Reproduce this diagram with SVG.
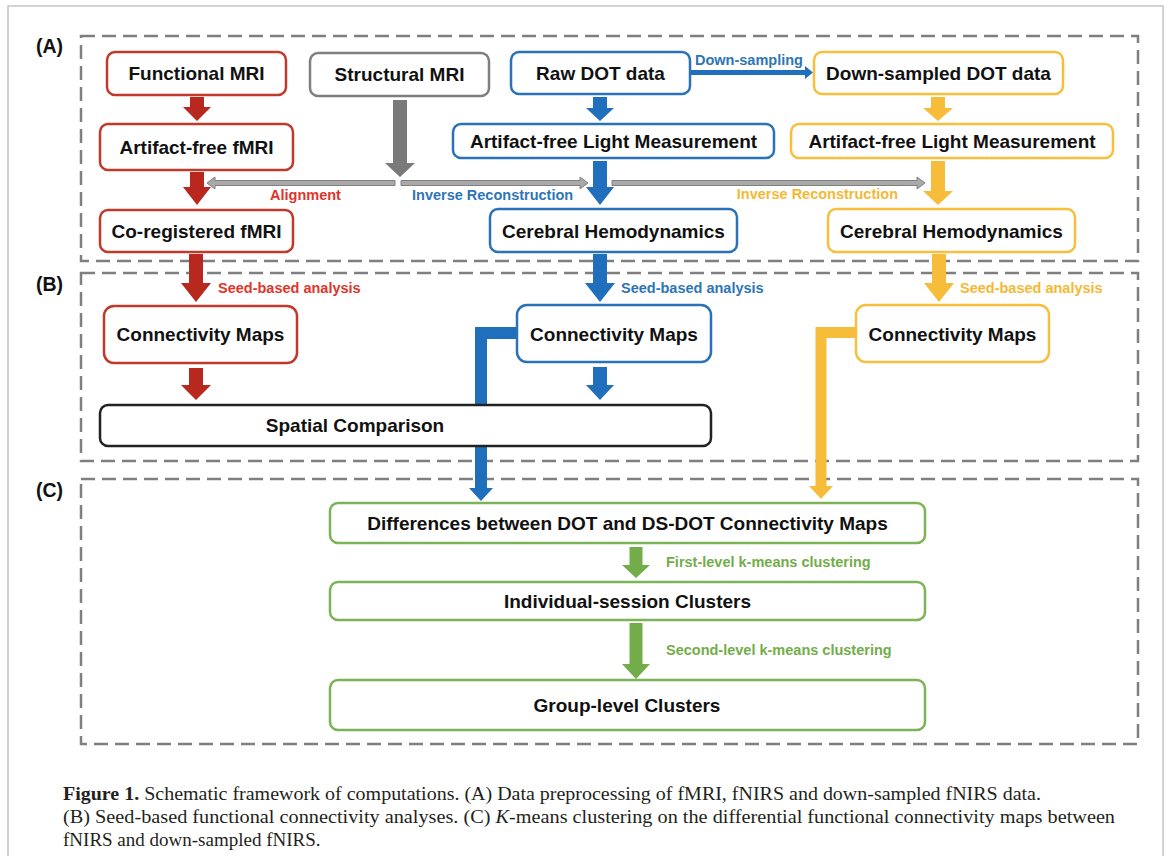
<svg xmlns="http://www.w3.org/2000/svg" width="1168" height="856" viewBox="0 0 1168 856">
<style>
.frame{fill:#fff;stroke:#c4c4c4;stroke-width:1.5}
.dash{fill:none;stroke:#7f7f7f;stroke-width:2.5;stroke-dasharray:14 7}
.box{fill:#fff;stroke-width:2.5}
.red{stroke:#c0392b}
.gray{stroke:#7f7f7f}
.blue{stroke:#2a72b8}
.yel{stroke:#f7bf3e}
.grn{stroke:#7cb356}
.blk{stroke:#222}
.t{font-family:"Liberation Sans",Arial,sans-serif;font-weight:bold;font-size:19px;fill:#111;text-anchor:middle}
.sec{font-family:"Liberation Sans",Arial,sans-serif;font-weight:bold;font-size:19.5px;fill:#111}
.lb{font-family:"Liberation Sans",Arial,sans-serif;font-weight:bold;font-size:14.5px}
.cap{font-family:"Liberation Serif","Times New Roman",serif;font-size:19px;fill:#231f20}
.fr{fill:#b8281e}.fb{fill:#1f6fbd}.fy{fill:#f7bd3a}.fg{fill:#72ad4a}.fk{fill:#7a7a7a}
.thin{fill:#a9a9a9;stroke:#808080;stroke-width:1}
</style>
<rect class="frame" x="8" y="6" width="1155" height="860"/>
<g id="sections">
<rect class="dash" x="81" y="36" width="1057" height="225"/>
<rect class="dash" x="81" y="273" width="1057" height="188"/>
<rect class="dash" x="81" y="479" width="1057" height="265"/>
<text class="sec" x="36" y="53">(A)</text>
<text class="sec" x="36" y="291">(B)</text>
<text class="sec" x="36" y="497">(C)</text>
</g>
<g id="connectors">
<polygon class="thin" points="395,180.5 215,180.5 215,177 207,183 215,189 215,185.5 395,185.5"/>
<polygon class="thin" points="401,180.5 580,180.5 580,177 588,183 580,189 580,185.5 401,185.5"/>
<polygon class="thin" points="612,180.5 917,180.5 917,177 925,183 917,189 917,185.5 612,185.5"/>
<polygon class="fb" points="690,70 805,70 805,66 813,72.5 805,79 805,75 690,75"/>
<polygon class="fk" points="393,100 407,100 407,163 415,163 400,177 385,163 393,163"/>
<polygon class="fr" points="190,97 204,97 204,107 211,107 197,121 183,107 190,107"/>
<polygon class="fr" points="190,172 204,172 204,187 211,187 197,205 183,187 190,187"/>
<polygon class="fr" points="189,254 203,254 203,283 211,283 196,302 181,283 189,283"/>
<polygon class="fr" points="189,368 203,368 203,385 211,385 196,400 181,385 189,385"/>
<polygon class="fb" points="593,97 607,97 607,108 614,108 600,121 586,108 593,108"/>
<polygon class="fb" points="593,161 607,161 607,187 614,187 600,205 586,187 593,187"/>
<polygon class="fb" points="593,254 607,254 607,283 615,283 600,302 585,283 593,283"/>
<polygon class="fb" points="593,367 607,367 607,385 614,385 600,400 586,385 593,385"/>
<polygon class="fy" points="931,97 945,97 945,108 953,108 938,121 923,108 931,108"/>
<polygon class="fy" points="931,161 945,161 945,191 953,191 938,205 923,191 931,191"/>
<polygon class="fy" points="932,254 946,254 946,283 954,283 939,302 924,283 932,283"/>
<polygon class="fb" points="517,327 475,327 475,488 469,488 481,501 493,488 487,488 487,339 517,339"/>
<polygon class="fy" points="856,327 815.5,327 815.5,486 809,486 821,499 833,486 826.5,486 826.5,338 856,338"/>
<polygon class="fg" points="629.5,547 642.5,547 642.5,565 650,565 636,578 622,565 629.5,565"/>
<polygon class="fg" points="629.5,623 642.5,623 642.5,664 650,664 636,679 622,664 629.5,664"/>
<text class="lb" x="695" y="65" fill="#2e75b6">Down-sampling</text>
<text class="lb" x="270" y="200" fill="#e0352b">Alignment</text>
<text class="lb" x="412" y="200" fill="#2e75b6">Inverse Reconstruction</text>
<text class="lb" x="898" y="199" fill="#f5b834" text-anchor="end">Inverse Reconstruction</text>
<text class="lb" x="218" y="293" fill="#e0352b">Seed-based analysis</text>
<text class="lb" x="621" y="293" fill="#2e75b6">Seed-based analysis</text>
<text class="lb" x="960" y="293" fill="#f5b834">Seed-based analysis</text>
<text class="lb" x="666" y="567" fill="#72ad4a">First-level k-means clustering</text>
<text class="lb" x="666" y="655" fill="#72ad4a">Second-level k-means clustering</text>
</g>
<g id="n-fmri"><rect class="box red" x="107" y="52" width="179" height="43" rx="8"/><text class="t" x="196.5" y="80">Functional MRI</text></g>
<g id="n-smri"><rect class="box gray" x="310" y="53" width="179" height="43" rx="8"/><text class="t" x="399.5" y="81">Structural MRI</text></g>
<g id="n-raw"><rect class="box blue" x="511" y="52" width="179" height="42" rx="8"/><text class="t" x="600.5" y="80">Raw DOT data</text></g>
<g id="n-ds"><rect class="box yel" x="814" y="52" width="249" height="42" rx="8"/><text class="t" x="938.5" y="80">Down-sampled DOT data</text></g>
<g id="n-af-fmri"><rect class="box red" x="100" y="124" width="193" height="46" rx="8"/><text class="t" x="196.5" y="154">Artifact-free fMRI</text></g>
<g id="n-af-blue"><rect class="box blue" x="453" y="124" width="321" height="34" rx="8"/><text class="t" x="613.5" y="148">Artifact-free Light Measurement</text></g>
<g id="n-af-yel"><rect class="box yel" x="791" y="124" width="322" height="34" rx="8"/><text class="t" x="952" y="148">Artifact-free Light Measurement</text></g>
<g id="n-coreg"><rect class="box red" x="100" y="210" width="193" height="42" rx="8"/><text class="t" x="196.5" y="238">Co-registered fMRI</text></g>
<g id="n-ch-blue"><rect class="box blue" x="490" y="209" width="247" height="43" rx="8"/><text class="t" x="613.5" y="238">Cerebral Hemodynamics</text></g>
<g id="n-ch-yel"><rect class="box yel" x="828" y="209" width="247" height="43" rx="8"/><text class="t" x="951.5" y="238">Cerebral Hemodynamics</text></g>
<g id="n-cm-red"><rect class="box red" x="104" y="306" width="193" height="57" rx="10"/><text class="t" x="200.5" y="341">Connectivity Maps</text></g>
<g id="n-cm-blue"><rect class="box blue" x="517" y="305" width="194" height="57" rx="10"/><text class="t" x="614" y="341">Connectivity Maps</text></g>
<g id="n-cm-yel"><rect class="box yel" x="856" y="305" width="193" height="57" rx="10"/><text class="t" x="952.5" y="341">Connectivity Maps</text></g>
<g id="n-spatial"><rect class="box blk" x="100" y="405" width="611" height="41" rx="8"/><text class="t" x="355" y="432">Spatial Comparison</text></g>
<g id="n-diff"><rect class="box grn" x="330" y="503" width="595" height="40" rx="8"/><text class="t" x="627.5" y="530">Differences between DOT and DS-DOT Connectivity Maps</text></g>
<g id="n-indiv"><rect class="box grn" x="330" y="582" width="595" height="38" rx="8"/><text class="t" x="627.5" y="608">Individual-session Clusters</text></g>
<g id="n-group"><rect class="box grn" x="330" y="680" width="595" height="50" rx="8"/><text class="t" x="627" y="712">Group-level Clusters</text></g>
<g id="caption">
<text class="cap" x="63" y="800" textLength="978" lengthAdjust="spacingAndGlyphs"><tspan font-weight="bold">Figure 1.</tspan> Schematic framework of computations. (A) Data preprocessing of fMRI, fNIRS and down-sampled fNIRS data.</text>
<text class="cap" x="63" y="823" textLength="1052" lengthAdjust="spacingAndGlyphs">(B) Seed-based functional connectivity analyses. (C) <tspan font-style="italic">K</tspan>-means clustering on the differential functional connectivity maps between</text>
<text class="cap" x="63" y="846">fNIRS and down-sampled fNIRS.</text>
</g>
</svg>
